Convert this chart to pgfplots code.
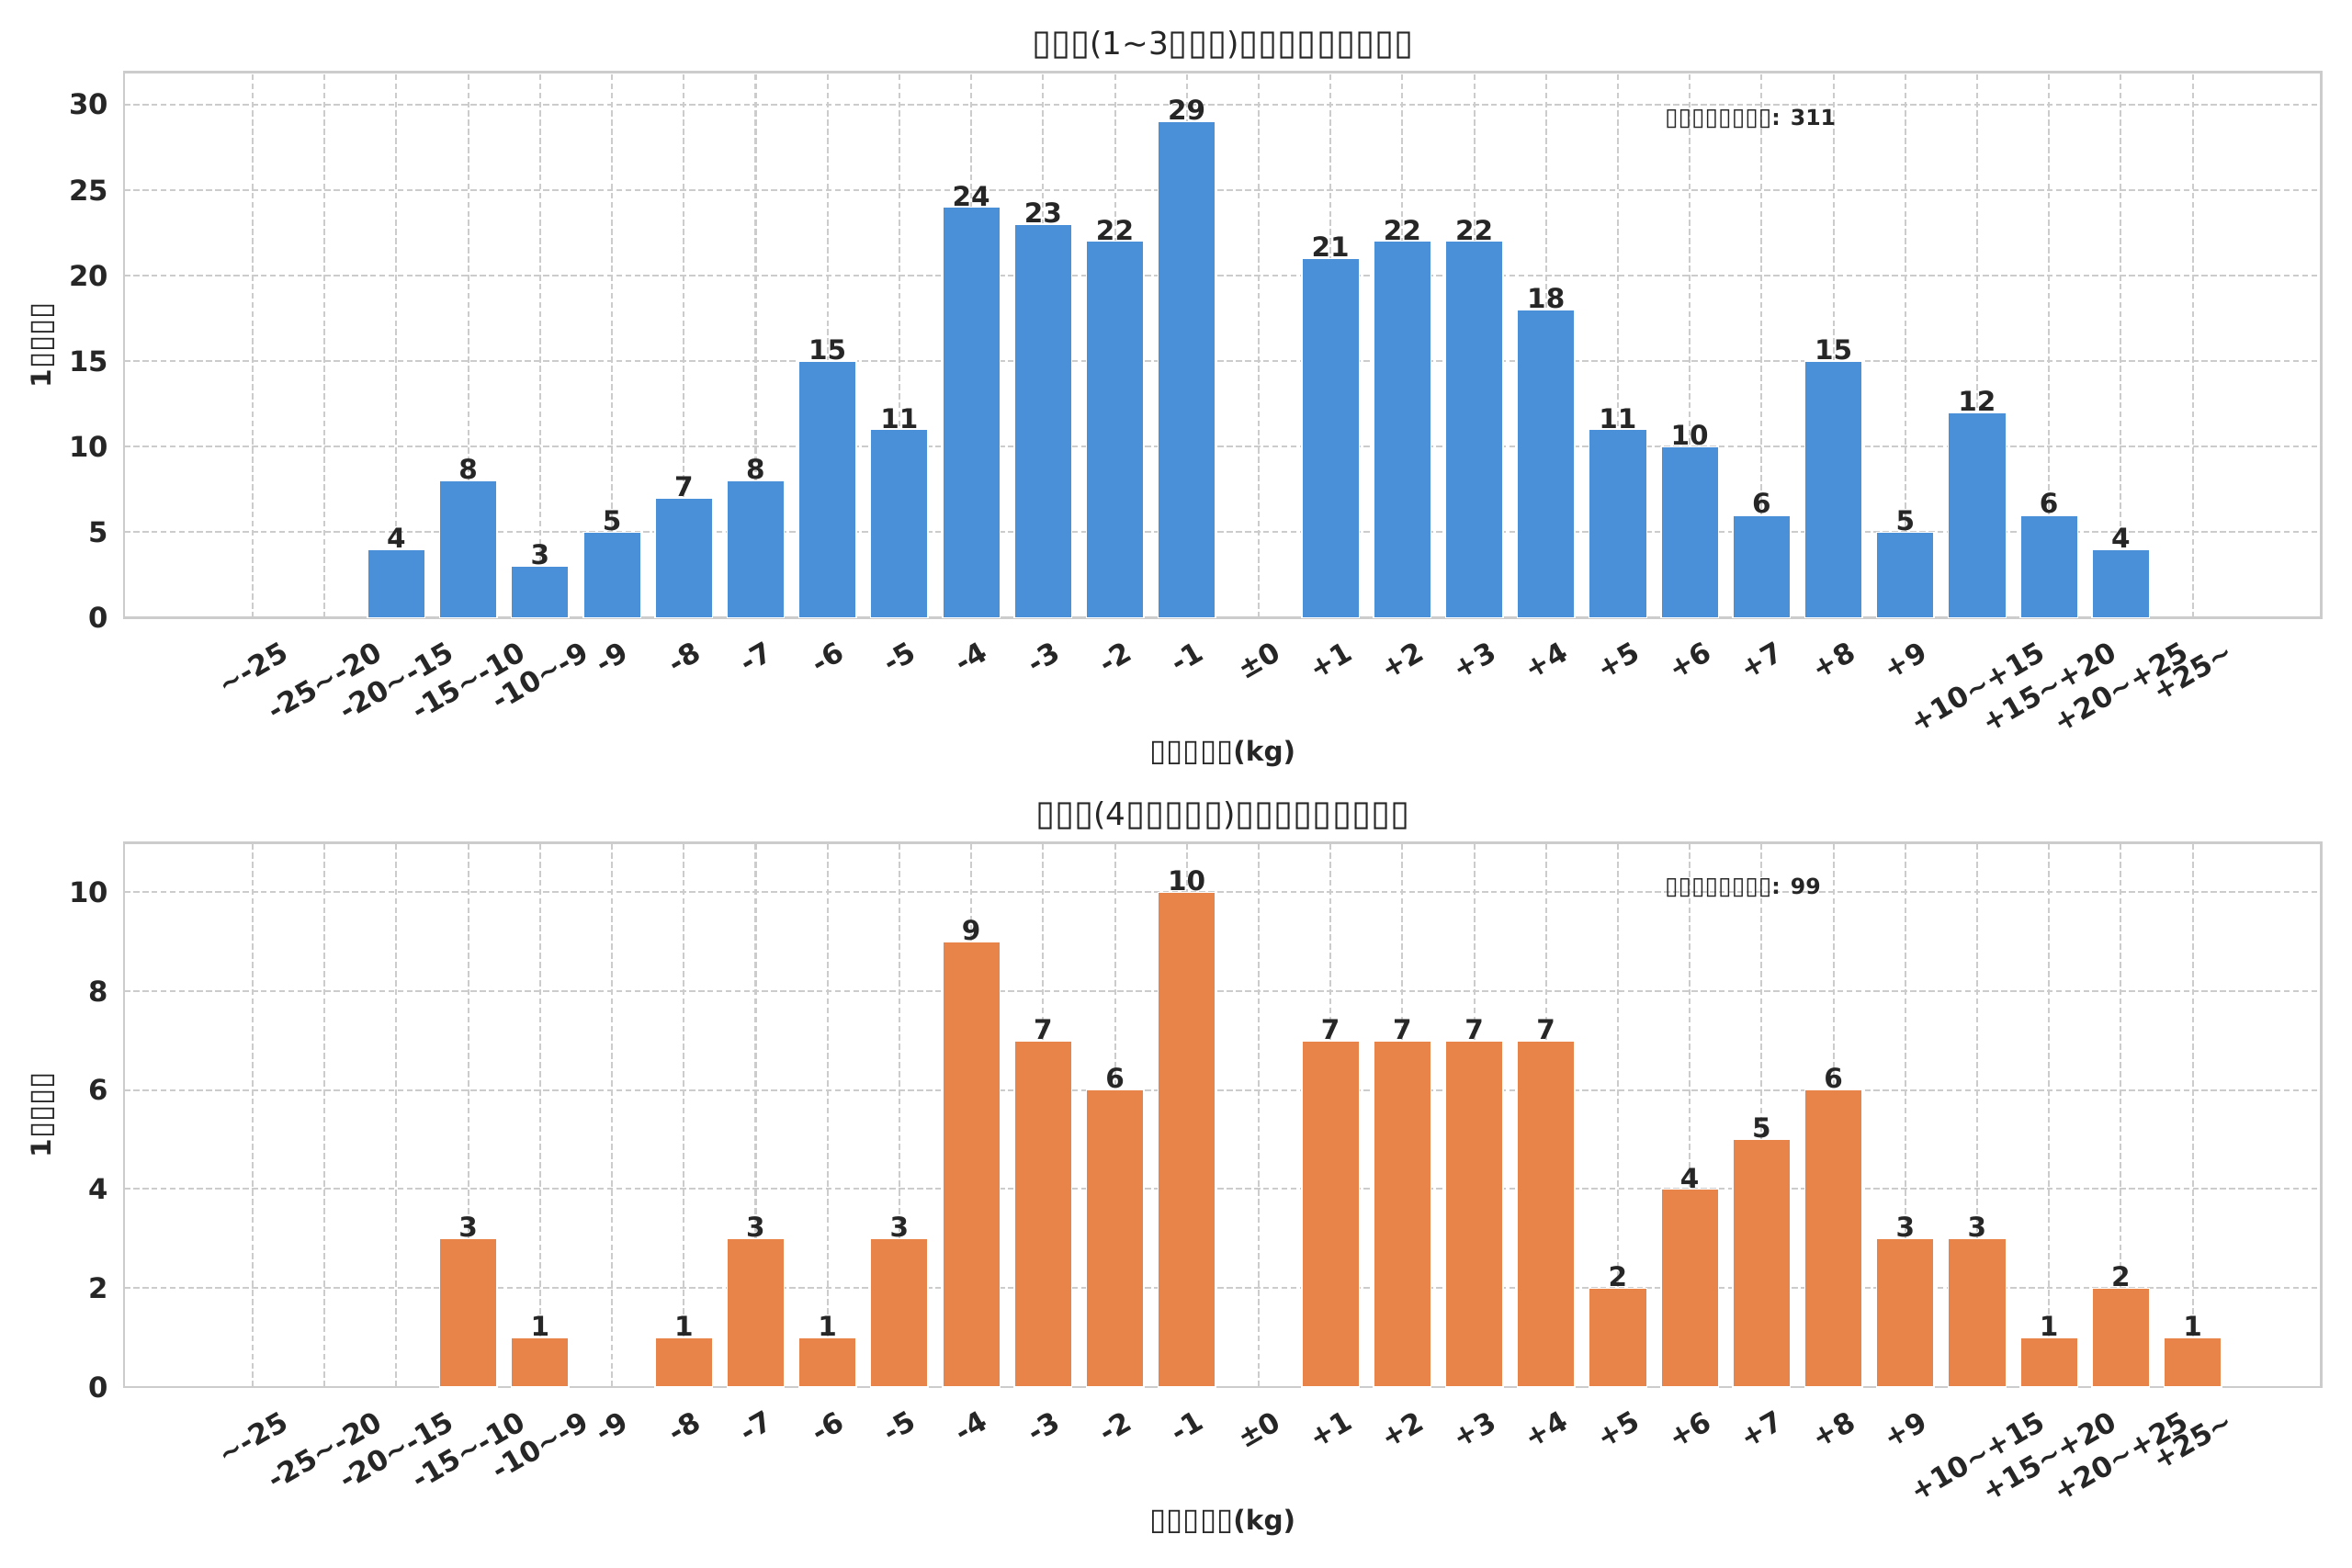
\documentclass[border=0pt]{standalone}
\usepackage{pgfplots}
\pgfplotsset{compat=1.18}
\usepackage{fontspec}
\setmainfont{DejaVu Sans}
\newfontfamily\boxfont{DejaVu Sans}
\newcommand\tf{\scalebox{1.12}{\boxfont\mdseries ▯}}
\newcommand\tl{\textasciitilde}
\newcommand\rl[1]{\rotatebox{30}{#1}}
\definecolor{barblue}{RGB}{74,144,217}
\definecolor{barorange}{RGB}{232,131,74}
\definecolor{gridgray}{RGB}{204,204,204}
\definecolor{txt}{RGB}{38,38,38}

\pgfplotsset{
  mystyle/.style={
    scale only axis,
    width=1012.7pt,
    height=251.6pt,
    xmin=-1.79, xmax=28.79,
    ymin=0,
    axis line style={gridgray, line width=1pt},
    grid=both,
    major grid style={gridgray, line width=0.85pt, dash pattern=on 2.8pt off 1.4pt},
    tick style={draw=none},
    xtick={0,...,27},
    xticklabels={\rl{\tl-25},\rl{-25\tl-20},\rl{-20\tl-15},\rl{-15\tl-10},\rl{-10\tl-9},\rl{-9},\rl{-8},\rl{-7},\rl{-6},\rl{-5},\rl{-4},\rl{-3},\rl{-2},\rl{-1},\rl{±0},\rl{+1},\rl{+2},\rl{+3},\rl{+4},\rl{+5},\rl{+6},\rl{+7},\rl{+8},\rl{+9},\rl{+10\tl+15},\rl{+15\tl+20},\rl{+20\tl+25},\rl{+25\tl}},
    xticklabel style={font=\fontsize{13}{15}\selectfont\bfseries, text=txt, anchor=north, inner sep=0pt, yshift=-6pt},
    yticklabel style={font=\fontsize{13}{15}\selectfont\bfseries, text=txt, anchor=east, inner sep=0pt, xshift=-7pt},
    /pgf/number format/assume math mode=true,
    ybar,
    bar width=0.8,
    nodes near coords,
    every node near coord/.append style={font=\fontsize{12.5}{14}\selectfont\bfseries, text=txt, anchor=south, inner sep=0pt, yshift=0.3pt},
    clip=false,
  }
}

\begin{document}
\begin{tikzpicture}
\path[use as bounding box] (0,0) rectangle (1084.05pt,722.7pt);

\begin{axis}[mystyle, at={(57.2pt,437.9pt)}, anchor=south west,
  ymax=31.9, ytick={0,5,...,30}]
\addplot[fill=barblue, draw=white, line width=0.6pt] coordinates {
(2,4) (3,8) (4,3) (5,5) (6,7) (7,8) (8,15) (9,11) (10,24) (11,23) (12,22) (13,29)
(15,21) (16,22) (17,22) (18,18) (19,11) (20,10) (21,6) (22,15) (23,5) (24,12) (25,6) (26,4)
};
\node[yshift=8pt, anchor=base, font=\fontsize{14.5}{17}\selectfont, text=txt] at (rel axis cs:0.5,1) {\tf\tf\tf(1\tl3\tf\tf\tf)\tf\tf\tf\tf\tf\tf\tf\tf\tf};
\node[yshift=-66pt, anchor=base, font=\fontsize{12.5}{15}\selectfont\bfseries, text=txt] at (rel axis cs:0.5,0) {\tf\tf\tf\tf\tf(kg)};
\node[xshift=-37.5pt, rotate=90, anchor=center, font=\fontsize{12.5}{15}\selectfont\bfseries, text=txt] at (rel axis cs:0,0.5) {1\tf\tf\tf\tf};
\node[anchor=west, font=\fontsize{10}{12}\selectfont\bfseries, text=txt, inner sep=0pt] at (rel axis cs:0.701,0.915) {\tf\tf\tf\tf\tf\tf\tf\tf: 311};
\end{axis}

\begin{axis}[mystyle, at={(57.2pt,83.3pt)}, anchor=south west,
  height=250.9pt, ymax=11, ytick={0,2,...,10}]
\addplot[fill=barorange, draw=white, line width=0.6pt] coordinates {
(3,3) (4,1) (6,1) (7,3) (8,1) (9,3) (10,9) (11,7) (12,6) (13,10)
(15,7) (16,7) (17,7) (18,7) (19,2) (20,4) (21,5) (22,6) (23,3) (24,3) (25,1) (26,2) (27,1)
};
\node[yshift=8pt, anchor=base, font=\fontsize{14.5}{17}\selectfont, text=txt] at (rel axis cs:0.5,1) {\tf\tf\tf(4\tf\tf\tf\tf\tf)\tf\tf\tf\tf\tf\tf\tf\tf\tf};
\node[yshift=-66pt, anchor=base, font=\fontsize{12.5}{15}\selectfont\bfseries, text=txt] at (rel axis cs:0.5,0) {\tf\tf\tf\tf\tf(kg)};
\node[xshift=-37.5pt, rotate=90, anchor=center, font=\fontsize{12.5}{15}\selectfont\bfseries, text=txt] at (rel axis cs:0,0.5) {1\tf\tf\tf\tf};
\node[anchor=west, font=\fontsize{10}{12}\selectfont\bfseries, text=txt, inner sep=0pt] at (rel axis cs:0.701,0.917) {\tf\tf\tf\tf\tf\tf\tf\tf: 99};
\end{axis}
\end{tikzpicture}
\end{document}
